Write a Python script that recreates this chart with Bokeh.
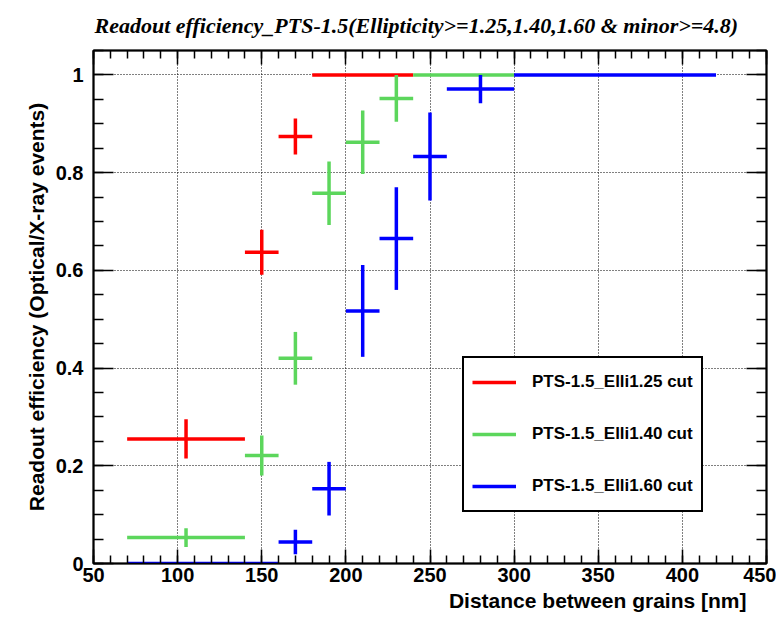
from bokeh.plotting import figure
from bokeh.models import (LinearAxis, SingleIntervalTicker, Legend, LegendItem,
                          CustomJSTickFormatter, ColumnDataSource, Title)
from bokeh.embed import file_html
from bokeh.resources import INLINE

# ---- data ----
red_x = [105, 150, 170, 210]
red_y = [0.255, 0.637, 0.874, 1.0]
red_xerr = [35, 10, 10, 30]
red_yerr = [0.040, 0.046, 0.037, 0.0]

green_x = [105, 150, 170, 190, 210, 230, 270]
green_y = [0.053, 0.221, 0.420, 0.758, 0.862, 0.952, 1.0]
green_xerr = [35, 10, 10, 10, 10, 10, 30]
green_yerr = [0.019, 0.041, 0.054, 0.065, 0.065, 0.048, 0.0]

blue_x = [115, 170, 190, 210, 230, 250, 280, 360]
blue_y = [0.0, 0.044, 0.153, 0.517, 0.665, 0.833, 0.971, 1.0]
blue_xerr = [45, 10, 10, 10, 10, 10, 20, 60]
blue_yerr = [0.0, 0.025, 0.055, 0.094, 0.105, 0.090, 0.029, 0.0]

series = [
    ("PTS-1.5_Elli1.25 cut", "#ff0000", red_x, red_y, red_xerr, red_yerr),
    ("PTS-1.5_Elli1.40 cut", "#5cd65c", green_x, green_y, green_xerr, green_yerr),
    ("PTS-1.5_Elli1.60 cut", "#0000ff", blue_x, blue_y, blue_xerr, blue_yerr),
]

title = "Readout efficiency_PTS-1.5(Ellipticity>=1.25,1.40,1.60 & minor>=4.8)"
x_label = "Distance between grains [nm]"
y_label = "Readout efficiency (Optical/X-ray events)"

p = figure(width=776, height=618, x_range=(50, 450), y_range=(0, 1.05),
           output_backend="svg", toolbar_location=None,
           min_border_left=93, min_border_right=10, min_border_top=50,
           min_border_bottom=55, background_fill_color="white",
           border_fill_color="white", title=None)

p.outline_line_color = "black"
p.outline_line_width = 2

xt = SingleIntervalTicker(interval=50, num_minor_ticks=5)
yt = SingleIntervalTicker(interval=0.2, num_minor_ticks=4)
yfmt = CustomJSTickFormatter(code="return Number(tick.toFixed(2)).toString();")
blank = CustomJSTickFormatter(code="return '';")

xa = p.xaxis[0]
xa.ticker = xt
ya = p.yaxis[0]
ya.ticker = yt
ya.formatter = yfmt
ya.axis_label = y_label

for ax in (xa, ya):
    ax.major_tick_out = 0
    ax.minor_tick_out = 0
    ax.axis_line_color = "black"
    ax.axis_line_width = 1.5
    ax.major_tick_line_width = 1.5
    ax.minor_tick_line_width = 1.5
    ax.major_label_text_font = "Liberation Sans"
    ax.major_label_text_font_style = "bold"
    ax.major_label_text_font_size = "20px"
    ax.major_label_text_color = "black"
    ax.axis_label_text_font = "Liberation Sans"
    ax.axis_label_text_font_style = "bold"
    ax.axis_label_text_font_size = "21px"
    ax.axis_label_text_color = "black"

xa.major_tick_in = 14
xa.minor_tick_in = 8
xa.major_label_standoff = 4
ya.major_tick_in = 20
ya.minor_tick_in = 10
ya.major_label_standoff = 10
ya.axis_label_standoff = 5

top = LinearAxis(ticker=SingleIntervalTicker(interval=50, num_minor_ticks=5),
                 formatter=blank, major_label_text_font_size="1px",
                 major_label_standoff=0,
                 major_tick_in=14, major_tick_out=0, minor_tick_in=8,
                 minor_tick_out=0, axis_line_width=1.5,
                 major_tick_line_width=1.5, minor_tick_line_width=1.5)
right = LinearAxis(ticker=SingleIntervalTicker(interval=0.2, num_minor_ticks=4),
                   formatter=blank, major_label_text_font_size="1px",
                   major_label_standoff=0,
                   major_tick_in=20, major_tick_out=0, minor_tick_in=10,
                   minor_tick_out=0, axis_line_width=1.5,
                   major_tick_line_width=1.5, minor_tick_line_width=1.5)
p.add_layout(top, "above")
p.add_layout(right, "right")

t = Title(text=title, align="left", offset=1, standoff=22,
          vertical_align="top",
          text_font="Liberation Serif", text_font_style="bold italic",
          text_font_size="22px", text_color="black")
p.add_layout(t, "above")

xl = Title(text=x_label, align="right", offset=20, standoff=4,
           text_font="Liberation Sans", text_font_style="bold",
           text_font_size="21px", text_color="black")
p.add_layout(xl, "below")

for g in (p.xgrid[0], p.ygrid[0]):
    g.grid_line_color = "black"
    g.grid_line_alpha = 1
    g.grid_line_dash = "1 2"
    g.grid_line_width = 1
p.xgrid[0].ticker = xt
p.ygrid[0].ticker = yt

items = []
for label, color, xs, ys, xe, ye in series:
    src = ColumnDataSource(dict(
        x=xs, y=ys,
        x0=[a - b for a, b in zip(xs, xe)], x1=[a + b for a, b in zip(xs, xe)],
        y0=[a - b for a, b in zip(ys, ye)], y1=[a + b for a, b in zip(ys, ye)],
    ))
    rh = p.segment(x0="x0", y0="y", x1="x1", y1="y", source=src,
                   line_color=color, line_width=3.5)
    p.segment(x0="x", y0="y0", x1="x", y1="y1", source=src,
              line_color=color, line_width=3.5)
    items.append(LegendItem(label=label, renderers=[rh]))

legend = Legend(items=items, location=(369, 51))
legend.border_line_color = "black"
legend.border_line_alpha = 1
legend.border_line_width = 2
legend.background_fill_color = "white"
legend.background_fill_alpha = 1
legend.label_text_font = "Liberation Sans"
legend.label_text_font_style = "bold"
legend.label_text_font_size = "17px"
legend.label_text_color = "black"
legend.glyph_width = 44
legend.glyph_height = 32
legend.label_height = 32
legend.spacing = 20
legend.padding = 8
legend.margin = 0
legend.label_standoff = 16
p.add_layout(legend)

open("out.html", "w").write(file_html(p, INLINE))
